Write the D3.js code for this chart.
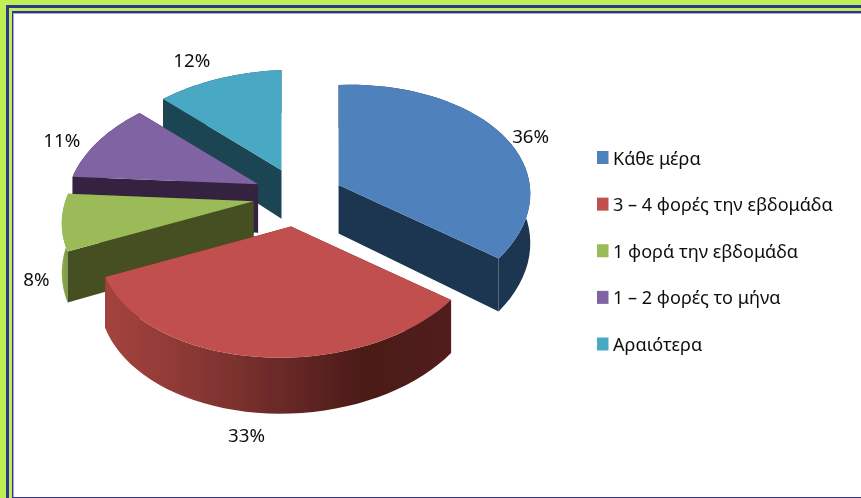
<!DOCTYPE html>
<html>
<head>
<meta charset="utf-8">
<script src="https://cdn.jsdelivr.net/npm/d3@7"></script>
<style>
html,body{margin:0;padding:0;background:#fff;overflow:hidden}
svg{display:block}
text{font-family:"Noto Sans","Open Sans",sans-serif;fill:#111}
</style>
</head>
<body>
<script>
const categories = ["Κάθε μέρα", "3 – 4 φορές την εβδομάδα", "1 φορά την εβδομάδα", "1 – 2 φορές το μήνα", "Αραιότερα"];
const shares = [36, 33, 8, 11, 12];
const topColors = ["#4f81bd", "#c0504d", "#9bbb59", "#8064a2", "#4aa8c4"];
const wallColors = ["#1f3551", "#4f1d1b", "#445024", "#34243f", "#1e4552"];
const rimStops = [
  ["#1f3551", "#1f3551"],
  ["#a5433f", "#8a3834", "#6b2a28", "#4b1a18", "#521e1c"],
  ["#8fad50", "#7a953f"],
  ["#34243f", "#34243f"],
  ["#1e4552", "#1e4552"]
];
const paintOrder = [4, 3, 2, 0, 1];
const labelReach = [1.18, 1.2, 1.13, 1.2, 1.25];
const labelDrop = [0, 1, 1, 0, 0];
const labelNudge = [[2, 3], [-2, -6], [0, 12], [-7, 12], [-14, 1]];

const W = 861, H = 498;
const cx = 298, cy = 197.5, radiusX = 190, radiusY = 113.4, depth = 48.5, persp = 0.134, explode = 0.236, tilt = 0.035, explodeLift = 1.1;
const sx = d3.scaleLinear().domain([-1, 1]).range([-radiusX, radiusX]);
const sy = d3.scaleLinear().domain([-1, 1]).range([-radiusY, radiusY]);

const svg = d3.select("body").append("svg").attr("width", W).attr("height", H);
const defs = svg.append("defs");
defs.append("filter").attr("id", "soft").attr("x", "-5%").attr("y", "-5%").attr("width", "110%").attr("height", "110%")
  .append("feGaussianBlur").attr("stdDeviation", 0.55);

// frame
const lime = "#c0ee55", navy = "#33348f", pale = "#a5a6d8";
svg.append("rect").attr("width", W).attr("height", H).attr("fill", lime);
svg.append("rect").attr("x", 6).attr("y", 5).attr("width", W).attr("height", H).attr("fill", navy);
svg.append("rect").attr("x", 9).attr("y", 8).attr("width", W).attr("height", H).attr("fill", lime);
svg.append("rect").attr("x", 12).attr("y", 11).attr("width", W).attr("height", H).attr("fill", navy);
svg.append("rect").attr("x", 13).attr("y", 13).attr("width", W).attr("height", H - 14).attr("fill", pale);
svg.append("rect").attr("x", 14).attr("y", 14).attr("width", W).attr("height", H - 15).attr("fill", "#fff");

const g = svg.append("g").attr("filter", "url(#soft)");
const pie = d3.pie().sort(null)(shares);
const line = d3.line();

paintOrder.forEach(i => {
  const p = pie[i];
  const a = p.startAngle, b = p.endAngle, mid = (a + b) / 2;
  const ox = cx + sx(explode * Math.sin(mid)), oy = cy + explodeLift * sy(-explode * Math.cos(mid));
  const pt = (t, r, z) => {
    const v = -r * Math.cos(t), f = 1 / (1 - persp * v), dx = sx(r * Math.sin(t)) * f;
    return [ox + dx, oy + (sy(v) + depth * z) * f - tilt * dx];
  };
  const angles = d3.range(0, 41).map(k => a + (b - a) * k / 40);
  const arcTop = angles.map(t => pt(t, 1, 0));
  const arcBot = angles.map(t => pt(t, 1, 1)).reverse();
  const topPath = [pt(a, 0, 0), ...arcTop];
  const rimPath = [...arcTop, ...arcBot];
  const wall = t => [pt(t, 0, 0), pt(t, 1, 0), pt(t, 1, 1), pt(t, 0, 1)];
  const facing = phi => -Math.cos(phi) > 1e-6;
  const startFront = facing(a - Math.PI / 2), endFront = facing(b + Math.PI / 2);

  const gradId = "rim" + i;
  const xs = rimPath.map(d => d[0]);
  const grad = defs.append("linearGradient").attr("id", gradId)
    .attr("gradientUnits", "userSpaceOnUse")
    .attr("x1", d3.min(xs)).attr("x2", d3.max(xs)).attr("y1", 0).attr("y2", 0);
  rimStops[i].forEach((c, k, arr) => grad.append("stop")
    .attr("offset", k / (arr.length - 1)).attr("stop-color", c));

  const drawWall = t => g.append("path").attr("d", line(wall(t)) + "Z").attr("fill", wallColors[i]);
  if (!startFront) drawWall(a);
  if (!endFront) drawWall(b);
  g.append("path").attr("d", line(rimPath) + "Z").attr("fill", `url(#${gradId})`);
  if (startFront) drawWall(a);
  if (endFront) drawWall(b);
  g.append("path").attr("d", line(topPath) + "Z").attr("fill", topColors[i]);
});

// data labels
pie.forEach((p, i) => {
  const mid = (p.startAngle + p.endAngle) / 2;
  const ox = cx + sx(explode * Math.sin(mid)), oy = cy + sy(-explode * Math.cos(mid));
  const r = labelReach[i], v = -r * Math.cos(mid), f = 1 / (1 - persp * v);
  g.append("text")
    .attr("x", ox + sx(r * Math.sin(mid)) * f + labelNudge[i][0])
    .attr("y", oy + (sy(v) + depth * labelDrop[i]) * f + labelNudge[i][1])
    .attr("text-anchor", "middle").attr("dominant-baseline", "central")
    .attr("font-size", 18).text(shares[i] + "%").call(stretch, 1.04);
});

// legend
const rowY = d3.scalePoint().domain(categories).range([157.5, 344]);
const legendColor = d3.scaleOrdinal().domain(categories).range(topColors);
categories.forEach(c => {
  g.append("rect").attr("x", 597).attr("y", rowY(c) - 6.5).attr("width", 11.5).attr("height", 13).attr("fill", legendColor(c));
  g.append("text").attr("x", 613).attr("y", rowY(c)).attr("dominant-baseline", "central")
    .attr("font-size", 18).text(c).call(stretch, 1.005);
});

function stretch(sel, k) {
  const w = sel.node().getComputedTextLength();
  sel.attr("textLength", w * k).attr("lengthAdjust", "spacingAndGlyphs");
}
</script>
</body>
</html>
